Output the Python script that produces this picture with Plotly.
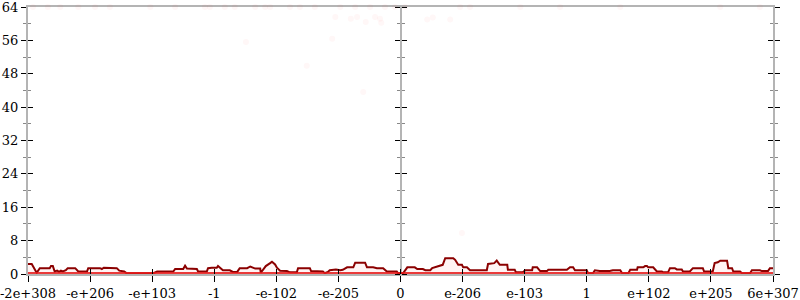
import plotly.graph_objects as go

# x positions are in tick-index units (0..12 evenly spaced ticks)
tick_vals = list(range(13))
tick_text = ["-2e+308", "-e+206", "-e+103", "-1", "-e-102", "-e-205", "0",
             "e-206", "e-103", "1", "e+102", "e+205", "6e+307"]

line_x = [0.00, 0.06, 0.14, 0.19, 0.35, 0.37, 0.40, 0.43, 0.47, 0.50, 0.53, 0.56, 0.61, 0.64, 0.76,
          0.81, 0.95, 0.97, 1.16, 1.19, 1.22, 1.32, 1.43, 1.47, 1.55, 1.59, 2.01, 2.08, 2.34, 2.37,
          2.50, 2.53, 2.56, 2.72, 2.74, 2.88, 2.90, 2.96, 3.04, 3.06, 3.11, 3.14, 3.25, 3.30, 3.37,
          3.41, 3.53, 3.58, 3.66, 3.74, 3.75, 3.79, 3.83, 3.90, 3.93, 3.98, 4.01, 4.06, 4.17, 4.22,
          4.33, 4.35, 4.54, 4.56, 4.75, 4.78, 4.83, 4.86, 4.96, 5.03, 5.07, 5.14, 5.24, 5.27, 5.43,
          5.46, 5.56, 5.62, 5.72, 5.78, 5.94, 5.96, 6.04, 6.11, 6.23, 6.27, 6.36, 6.40, 6.48, 6.51,
          6.64, 6.68, 6.72, 6.85, 6.88, 6.93, 6.99, 7.01, 7.07, 7.12, 7.39, 7.41, 7.51, 7.55, 7.60,
          7.72, 7.73, 7.84, 7.86, 7.97, 8.01, 8.12, 8.13, 8.20, 8.25, 8.36, 8.38, 8.68, 8.73, 8.78,
          8.81, 9.00, 9.02, 9.10, 9.13, 9.21, 9.37, 9.42, 9.54, 9.57, 9.67, 9.70, 9.81, 9.82, 9.91,
          9.94, 9.97, 9.99, 10.07, 10.13, 10.21, 10.23, 10.31, 10.34, 10.42, 10.45, 10.53, 10.55,
          10.66, 10.71, 10.87, 10.89, 11.03, 11.06, 11.11, 11.15, 11.26, 11.28, 11.34, 11.36, 11.47,
          11.50, 11.63, 11.66, 11.79, 11.82, 11.92, 11.95, 12.00]
line_y = [2.4, 2.4, 0.3, 1.4, 1.4, 1.9, 1.9, 0.6, 0.8, 0.5, 0.8, 0.6, 0.9, 1.4, 1.4,
          0.6, 0.6, 1.4, 1.4, 1.2, 1.5, 1.4, 1.4, 0.8, 0.6, 0.15, 0.15, 0.6, 0.6, 1.2,
          1.2, 2.0, 1.3, 1.2, 0.6, 0.6, 1.4, 1.5, 1.5, 1.9, 1.4, 0.9, 0.9, 0.5, 0.5,
          1.4, 1.4, 1.8, 1.3, 1.3, 0.3, 1.0, 1.9, 2.6, 2.95, 2.3, 1.5, 0.8, 0.7, 0.4,
          0.4, 1.4, 1.4, 0.7, 0.6, 0.2, 0.5, 0.9, 1.1, 0.9, 1.0, 1.6, 1.6, 2.7, 2.7,
          1.6, 1.6, 1.4, 1.4, 0.6, 0.6, 0.15, 0.15, 1.6, 1.6, 1.2, 1.2, 0.9, 0.9, 1.4,
          2.0, 2.2, 3.8, 3.8, 3.4, 2.2, 2.2, 1.6, 1.6, 0.9, 0.9, 2.4, 2.6, 3.2, 2.2,
          2.2, 1.0, 1.0, 0.4, 0.4, 0.9, 0.9, 1.6, 1.6, 0.7, 0.7, 1.0, 1.0, 1.6, 1.6,
          0.9, 0.9, 0.2, 0.2, 0.9, 0.7, 0.7, 0.9, 0.9, 0.2, 0.2, 1.0, 1.0, 1.6, 1.6,
          1.9, 1.9, 1.6, 1.6, 0.6, 0.6, 0.4, 0.4, 1.4, 1.4, 1.1, 1.1, 0.6,
          0.6, 1.4, 1.4, 0.6, 0.6, 2.6, 2.8, 3.2, 3.2, 1.4, 1.4, 0.6, 0.6,
          0.2, 0.2, 0.9, 0.9, 0.7, 0.7, 1.4, 1.4]

zero_x = [0, 12]
zero_y = [0, 0]

faint_x = [0.08, 0.32, 0.52, 0.81, 1.08, 1.32, 1.97, 2.37, 2.85, 2.93, 3.17, 3.33, 3.66, 3.82,
           3.90, 4.22, 4.38, 4.62, 5.03, 5.27, 5.51, 5.75, 5.91, 6.07, 6.96, 7.12, 7.93, 8.57,
           9.54, 11.15, 11.79,
           4.95, 5.20, 5.30, 5.44, 5.59, 5.67, 5.69, 3.51, 4.90, 4.49, 5.40, 6.43, 6.52, 6.80, 6.99]
faint_y = [64] * 31 + [61.6, 61.2, 61.6, 60.4, 61.6, 61.2, 60.2, 55.6, 56.4, 49.9, 43.6,
                       61.0, 61.5, 61.0, 9.8]

FONT = dict(family="DejaVu Serif", size=13, color="black")
GRAY = "#b4b4b4"

fig = go.Figure()
fig.add_trace(go.Scatter(x=faint_x, y=faint_y, mode="markers", cliponaxis=False,
                         marker=dict(size=6, color="rgba(255,40,40,0.035)"),
                         hoverinfo="skip", showlegend=False))
fig.add_trace(go.Scatter(x=line_x, y=line_y, mode="lines", fill="tozeroy",
                         fillcolor="rgba(255,60,60,0.06)",
                         line=dict(color="#8b0000", width=2),
                         hoverinfo="skip", showlegend=False))
fig.add_trace(go.Scatter(x=zero_x, y=zero_y, mode="lines", cliponaxis=False,
                         line=dict(color="rgba(230,25,25,0.85)", width=4),
                         hoverinfo="skip", showlegend=False))

minor_out = dict(dtick=4, tick0=0, ticks="outside", ticklen=3, tickcolor="#888888", tickwidth=1)
minor_in = dict(dtick=4, tick0=0, ticks="inside", ticklen=3, tickcolor="#888888", tickwidth=1)

common_y = dict(range=[0, 64], dtick=8, tick0=0, showgrid=False, zeroline=False,
                tickcolor="black", tickwidth=1, ticklen=5, fixedrange=True,
                automargin=False)

fig.update_layout(
    width=800, height=300,
    margin=dict(l=28, r=27, t=7, b=26, autoexpand=False),
    paper_bgcolor="white", plot_bgcolor="white",
    showlegend=False,
    xaxis=dict(range=[0, 12], tickvals=tick_vals, ticktext=tick_text, ticks="outside",
               ticklen=6, tickcolor="black", tickwidth=1, showgrid=False, zeroline=False,
               showline=True, linecolor=GRAY, linewidth=2, mirror=True, automargin=False,
               ticklabeloverflow="allow", layer="below traces", tickfont=FONT),
    xaxis2=dict(range=[0, 12], overlaying="x", anchor="y", side="bottom", automargin=False,
                tickvals=tick_vals, ticks="inside", ticklen=5, tickcolor="black",
                showticklabels=False, showgrid=False, zeroline=False, showline=False),
    yaxis=dict(**common_y, ticks="outside", showline=True, linecolor=GRAY, linewidth=2,
               minor=minor_out, tickfont=FONT, anchor="x", side="left",
               ticklabeloverflow="allow", layer="below traces"),
    yaxis2=dict(**common_y, overlaying="y", ticks="inside", showticklabels=False,
                showline=False, minor=minor_in, anchor="x", side="left"),
    yaxis3=dict(**common_y, overlaying="y", anchor="free", position=0.5, side="left",
                ticks="outside", showticklabels=False, showline=True, linecolor=GRAY,
                linewidth=2, minor=minor_out, layer="below traces"),
    yaxis4=dict(**common_y, overlaying="y", anchor="free", position=0.5, side="right",
                ticks="outside", showticklabels=False, showline=False, minor=minor_out),
    yaxis5=dict(**common_y, overlaying="y", anchor="x", side="right",
                ticks="outside", showticklabels=False, showline=True, linecolor=GRAY,
                linewidth=2, minor=minor_out, layer="below traces"),
    yaxis6=dict(**common_y, overlaying="y", anchor="x", side="right",
                ticks="inside", showticklabels=False, showline=False, minor=minor_in),
)

# attach invisible traces so overlaying axes are drawn
for ya in ["y2", "y3", "y4", "y5", "y6"]:
    fig.add_trace(go.Scatter(x=[None], y=[None], yaxis=ya, xaxis="x", mode="markers",
                             showlegend=False, hoverinfo="skip"))
fig.add_trace(go.Scatter(x=[None], y=[None], xaxis="x2", yaxis="y", mode="markers",
                         showlegend=False, hoverinfo="skip"))

fig.write_html("out.html")
